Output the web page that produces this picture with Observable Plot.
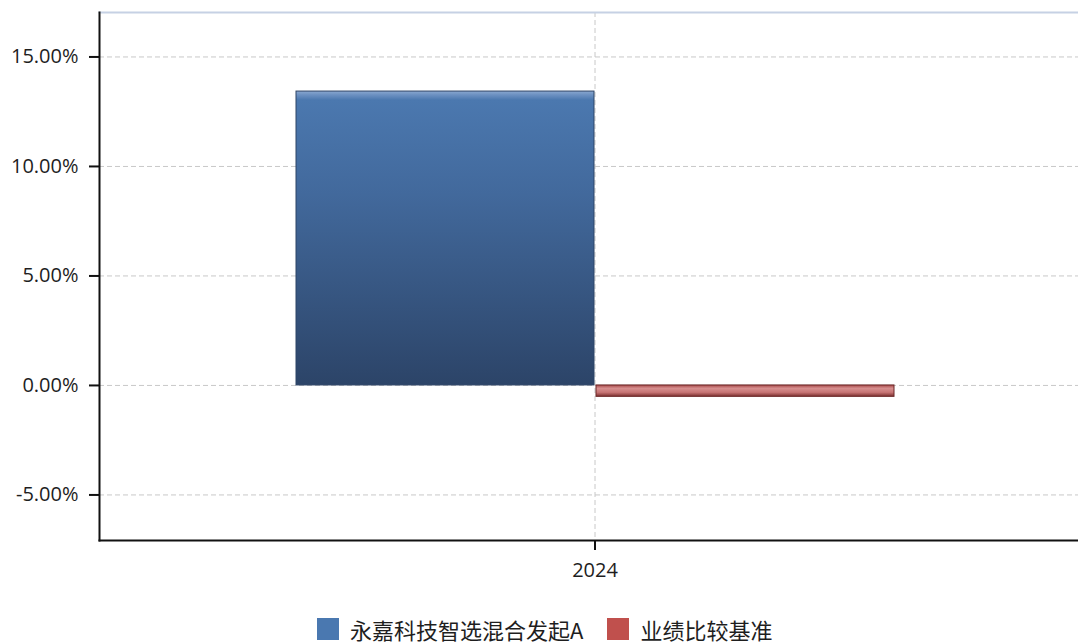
<!DOCTYPE html>
<html>
<head>
<meta charset="utf-8">
<script src="https://cdn.jsdelivr.net/npm/d3@7"></script>
<script src="https://cdn.jsdelivr.net/npm/@observablehq/plot@0.6"></script>
<style>
  html, body { margin: 0; padding: 0; background: #fff; overflow: hidden; }
  #wrap { position: relative; width: 1078px; height: 644px; overflow: hidden; }
  #chart svg { max-width: none !important; }
  #legend { position: absolute; top: 617px; left: 317px; display: flex; align-items: center;
            font-family: "Noto Sans CJK SC", "Open Sans", sans-serif; font-size: 22px; color: #1e1e1e; line-height: 22px; height: 23px; }
  .sw { width: 22px; height: 22px; display: inline-block; margin-right: 11px; }
  .item { display: flex; align-items: center; margin-right: 24px; }
</style>
</head>
<body>
<div id="wrap">
  <div id="chart"></div>
  <div id="legend"></div>
</div>
<script>
const years = ["2024"];
const seriesNames = ["永嘉科技智选混合发起A", "业绩比较基准"];
const fundValues = [13.42];
const benchValues = [-0.52];
const yTicks = [-5, 0, 5, 10, 15];
const legendColors = ["#4a78b0", "#c0504d"];

const data = [];
years.forEach((yr, i) => {
  data.push({year: yr, series: seriesNames[0], value: fundValues[i]});
  data.push({year: yr, series: seriesNames[1], value: benchValues[i]});
});

const dash = "5,3";
const chart = Plot.plot({
  width: 1090,
  height: 600,
  marginLeft: 99,
  marginRight: 0,
  marginTop: 12,
  marginBottom: 60,
  style: {fontFamily: "'Open Sans', sans-serif", fontSize: "20px", color: "#1e1e1e", background: "#fff", maxWidth: "none"},
  fx: {domain: years, padding: 0, label: null},
  x: {domain: seriesNames, paddingInner: 0.007, paddingOuter: 0.6535, axis: null},
  y: {domain: [-7.08, 17.03], label: null},
  marks: [
    Plot.gridY({ticks: yTicks, stroke: "#c8c8c8", strokeOpacity: 1, strokeDasharray: dash}),
    Plot.gridFx({stroke: "#c8c8c8", strokeOpacity: 1, strokeDasharray: dash}),
    Plot.barY(data.filter(d => d.series === seriesNames[0]), {
      fx: "year", x: "series", y: "value", fill: "url(#gradBlue)", stroke: "#2d4466", strokeWidth: 1
    }),
    Plot.barY(data.filter(d => d.series === seriesNames[1]), {
      fx: "year", x: "series", y: "value", fill: "url(#gradRed)", stroke: "#6a2626", strokeWidth: 1
    }),
    Plot.frame({anchor: "top", stroke: "#c6d1e4", strokeWidth: 2}),
    Plot.frame({anchor: "left", stroke: "#111", strokeWidth: 2}),
    Plot.frame({anchor: "bottom", stroke: "#111", strokeWidth: 2}),
    Plot.axisY({ticks: yTicks, tickFormat: d => d.toFixed(2) + "%", tickSize: 10, tickPadding: 11,
                fontSize: 20, label: null, stroke: "#111", strokeWidth: 2}),
    Plot.axisFx({anchor: "bottom", tickSize: 10, tickPadding: 12, fontSize: 20, label: null,
                 stroke: "#111", strokeWidth: 2})
  ]
});
chart.style.maxWidth = "none";

d3.select(chart).insert("defs", ":first-child").html(`
  <linearGradient id="gradBlue" x1="0" y1="0" x2="0" y2="1">
    <stop offset="0" stop-color="#8aa8d0"/>
    <stop offset="0.012" stop-color="#6e92c2"/>
    <stop offset="0.03" stop-color="#4b78af"/>
    <stop offset="0.35" stop-color="#42699c"/>
    <stop offset="1" stop-color="#2c4468"/>
  </linearGradient>
  <linearGradient id="gradRed" x1="0" y1="0" x2="0" y2="1">
    <stop offset="0" stop-color="#a84a4a"/>
    <stop offset="0.3" stop-color="#d68e8e"/>
    <stop offset="0.65" stop-color="#c77474"/>
    <stop offset="1" stop-color="#7c3030"/>
  </linearGradient>
`);

document.getElementById("chart").appendChild(chart);

const legend = document.getElementById("legend");
seriesNames.forEach((name, i) => {
  const item = document.createElement("div");
  item.className = "item";
  const sw = document.createElement("span");
  sw.className = "sw";
  sw.style.background = legendColors[i];
  const t = document.createElement("span");
  t.textContent = name;
  item.appendChild(sw);
  item.appendChild(t);
  legend.appendChild(item);
});
</script>
</body>
</html>
